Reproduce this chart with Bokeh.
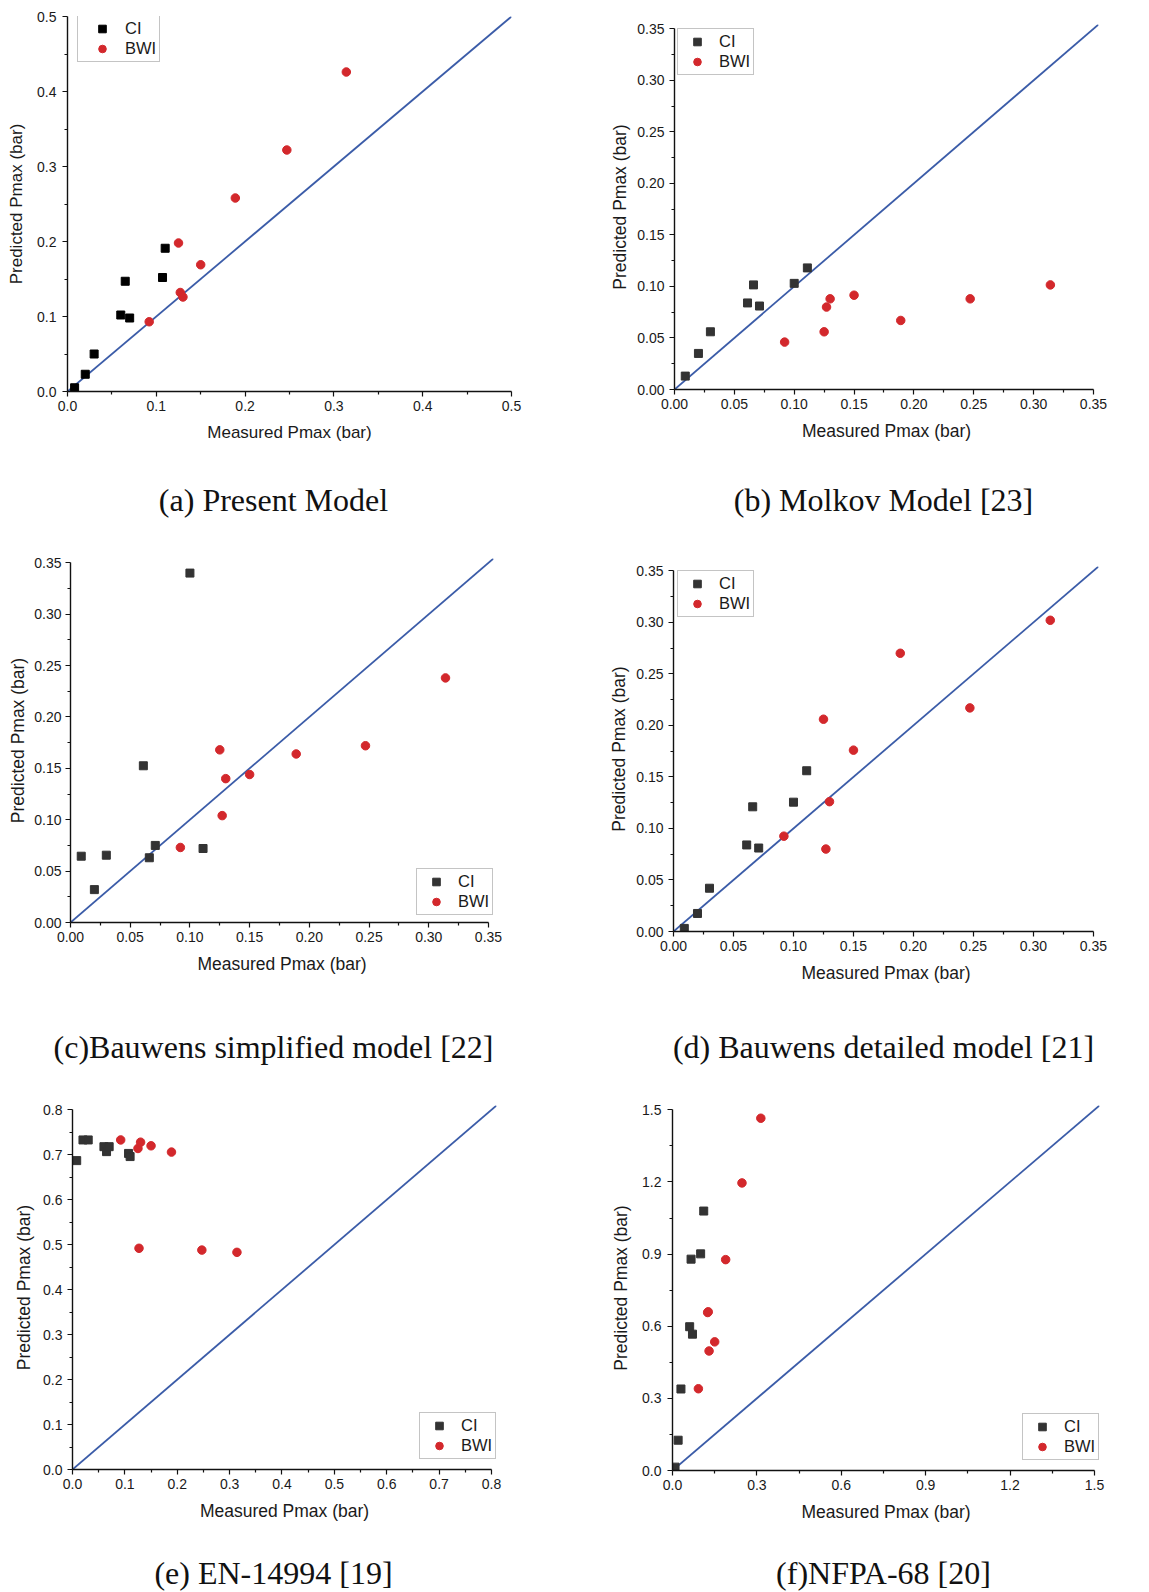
from bokeh.plotting import figure
from bokeh.layouts import column, row
from bokeh.models import Range1d, FixedTicker, PrintfTickFormatter
from bokeh.core.properties import value
from bokeh.embed import file_html
from bokeh.resources import INLINE

# ---------------- data ----------------
ci_measured = [0.009, 0.020, 0.030, 0.061, 0.066, 0.071, 0.100, 0.111]
ci_measured_alt = [0.008, 0.020, 0.030, 0.060, 0.065, 0.070, 0.107, 0.110]
bwi_measured = [0.092, 0.125, 0.127, 0.130, 0.150, 0.189, 0.247, 0.314]

ci_present = [0.005, 0.023, 0.050, 0.102, 0.147, 0.098, 0.152, 0.191]
bwi_present = [0.093, 0.198, 0.132, 0.126, 0.169, 0.258, 0.322, 0.426]

ci_molkov = [0.013, 0.035, 0.056, 0.084, 0.1015, 0.081, 0.103, 0.118]
bwi_molkov = [0.046, 0.056, 0.080, 0.088, 0.0915, 0.067, 0.088, 0.1015]

ci_bauwens_simpl = [0.0645, 0.032, 0.0655, 0.1525, 0.063, 0.075, 0.340, 0.072]
bwi_bauwens_simpl = [0.073, 0.168, 0.104, 0.140, 0.144, 0.164, 0.172, 0.238]

ci_bauwens_det = [0.003, 0.0175, 0.042, 0.084, 0.121, 0.081, 0.1255, 0.156]
bwi_bauwens_det = [0.0925, 0.206, 0.080, 0.126, 0.176, 0.270, 0.217, 0.302]

ci_en14994 = [0.687, 0.733, 0.733, 0.718, 0.707, 0.718, 0.703, 0.696]
bwi_en14994 = [0.733, 0.714, 0.492, 0.728, 0.720, 0.706, 0.488, 0.483]

ci_nfpa68 = [0.014, 0.126, 0.339, 0.598, 0.879, 0.567, 0.901, 1.079]
bwi_nfpa68 = [0.340, 0.657, 0.660, 0.497, 0.535, 0.877, 1.196, 1.465]

ticks_05 = [0.0, 0.1, 0.2, 0.3, 0.4, 0.5]
ticks_035 = [0.0, 0.05, 0.10, 0.15, 0.20, 0.25, 0.30, 0.35]
ticks_08 = [0.0, 0.1, 0.2, 0.3, 0.4, 0.5, 0.6, 0.7, 0.8]
ticks_15 = [0.0, 0.3, 0.6, 0.9, 1.2, 1.5]

captions = ["(a) Present Model", "(b) Molkov Model [23]",
            "(c)Bauwens simplified model [22]", "(d) Bauwens detailed model [21]",
            "(e) EN-14994 [19]", "(f)NFPA-68 [20]"]

series_labels = ["CI", "BWI"]
x_label = "Measured Pmax (bar)"
y_label = "Predicted Pmax (bar)"

RED = "#d3282c"
BLUE = "#3b5ca8"
SANS = "Liberation Sans"
SERIF = "Liberation Serif"
PAGE_W = 1149


def minor_of(ticks):
    return [(a + b) / 2 for a, b in zip(ticks[:-1], ticks[1:])]


def make_panel(cell, frame, ext, ticks, fmt, ci_x, ci_y, bwi_x, bwi_y,
               ci_color, legend_cfg, lab_font, ystand):
    cx, cy, cw, ch = cell
    fl, fb, fw, fh = frame
    fw_px = round(fw * (1 + ext))
    fh_px = round(fh * (1 + ext))
    vmax = ticks[-1]
    vend = vmax * (1 + ext)
    left = fl - cx
    top = fb - fh_px - cy
    right = cw - left - fw_px
    bottom = ch - top - fh_px
    p = figure(width=cw, height=ch, output_backend="svg", toolbar_location=None,
               x_range=Range1d(0, vend), y_range=Range1d(0, vend),
               min_border_left=left, min_border_right=right,
               min_border_top=top, min_border_bottom=bottom)
    p.outline_line_color = None
    p.grid.visible = False
    p.background_fill_color = "white"
    p.border_fill_color = "white"

    for ax in (p.xaxis[0], p.yaxis[0]):
        ax.ticker = FixedTicker(ticks=ticks, minor_ticks=minor_of(ticks))
        ax.formatter = PrintfTickFormatter(format=fmt)
        ax.bounds = (0, vmax)
        ax.axis_line_width = 1.4
        ax.axis_line_color = "#111111"
        ax.major_tick_line_color = "#111111"
        ax.minor_tick_line_color = "#111111"
        ax.major_tick_line_width = 1.2
        ax.minor_tick_line_width = 1.2
        ax.major_tick_in = 0
        ax.major_tick_out = 5
        ax.minor_tick_in = 0
        ax.minor_tick_out = 3
        ax.major_label_text_font = SANS
        ax.major_label_text_font_size = "14px"
        ax.major_label_text_color = "#1a1a1a"
        ax.axis_label_text_font = SANS
        ax.axis_label_text_font_size = lab_font
        ax.axis_label_text_font_style = "normal"
        ax.axis_label_text_color = "#1a1a1a"
    p.xaxis.axis_label = x_label
    p.yaxis.axis_label = y_label
    p.xaxis.major_label_standoff = 4
    p.xaxis.axis_label_standoff = 9
    p.yaxis.major_label_standoff = ystand[0]
    p.yaxis.axis_label_standoff = ystand[1]

    p.line([0, vend], [0, vend], line_color=BLUE, line_width=1.8)
    p.scatter(ci_x, ci_y, marker="square", size=8, fill_color=ci_color,
              line_color=ci_color, legend_label=series_labels[0])
    p.scatter(bwi_x, bwi_y, marker="circle", size=8.5, fill_color=RED,
              line_color=RED, legend_label=series_labels[1])

    lx, ly, gw, stand = legend_cfg
    lg = p.legend[0]
    lg.location = (lx, ly)
    lg.margin = 0
    lg.padding = 3
    lg.spacing = 1
    lg.glyph_width = gw
    lg.glyph_height = 19
    lg.label_height = 19
    lg.label_standoff = stand
    lg.label_text_font = SANS
    lg.label_text_font_size = "16.5px"
    lg.label_text_color = "#1a1a1a"
    lg.border_line_color = "#8a8a8a"
    lg.border_line_width = 1.5
    lg.background_fill_color = "white"
    lg.background_fill_alpha = 1.0
    return column(p, spacing=0)


def make_caption_band(height, texts, centers, baseline_from_top):
    c = figure(width=PAGE_W, height=height, output_backend="svg", toolbar_location=None,
               x_range=Range1d(0, PAGE_W), y_range=Range1d(0, height),
               x_axis_type=None, y_axis_type=None,
               min_border_left=0, min_border_right=0, min_border_top=0, min_border_bottom=0)
    c.outline_line_color = None
    c.grid.visible = False
    c.background_fill_color = "white"
    c.border_fill_color = "white"
    c.text(x=centers, y=[height - baseline_from_top] * len(texts), text=texts,
           text_font=value(SERIF), text_font_size=value("32px"),
           text_align="center", text_baseline="alphabetic", text_color="#111111")
    return c


pa = make_panel((0, 0, 590, 470), (67, 391, 444, 375), 0.0, ticks_05, "%.1f",
                ci_measured_alt, ci_present, bwi_measured, bwi_present, "#000000",
                (10, 329, 42, 2), "17px", (6, 8))
pb = make_panel((590, 0, 559, 470), (674, 389, 419, 361), 0.012, ticks_035, "%.2f",
                ci_measured, ci_molkov, bwi_measured, bwi_molkov, "#333333",
                (3, 314, 32, 6), "17.5px", (5, 4))
pc = make_panel((0, 535, 590, 480), (70, 922, 418, 360), 0.012, ticks_035, "%.2f",
                ci_measured, ci_bauwens_simpl, bwi_measured, bwi_bauwens_simpl, "#333333",
                (346, 7, 32, 6), "17.5px", (4, 3))
pd = make_panel((590, 535, 559, 480), (673, 931, 420, 361), 0.012, ticks_035, "%.2f",
                ci_measured, ci_bauwens_det, bwi_measured, bwi_bauwens_det, "#333333",
                (4, 314, 32, 6), "17.5px", (5, 4))
pe = make_panel((0, 1085, 590, 460), (72, 1469, 419, 360), 0.012, ticks_08, "%.1f",
                ci_measured_alt, ci_en14994, bwi_measured, bwi_en14994, "#333333",
                (347, 10, 32, 6), "17.5px", (5, 6))
pf = make_panel((590, 1085, 559, 460), (672, 1470, 422, 361), 0.012, ticks_15, "%.1f",
                ci_measured, ci_nfpa68, bwi_measured, bwi_nfpa68, "#333333",
                (350, 10, 32, 6), "17.5px", (6, 8))

cap1 = make_caption_band(65, captions[0:2], [273, 883], 29)
cap2 = make_caption_band(70, captions[2:4], [273, 883], 31)
cap3 = make_caption_band(47, captions[4:6], [273, 883], 27)

layout = column(row(pa, pb, spacing=0), cap1,
                row(pc, pd, spacing=0), cap2,
                row(pe, pf, spacing=0), cap3,
                spacing=0)

with open("out.html", "w") as f:
    f.write(file_html(layout, INLINE))
